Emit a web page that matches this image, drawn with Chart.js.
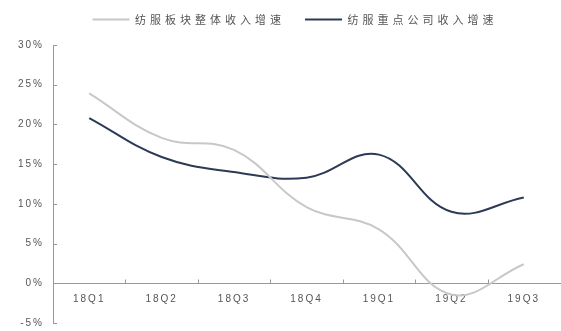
<!DOCTYPE html>
<html>
<head>
<meta charset="utf-8">
<script src="https://cdn.jsdelivr.net/npm/chart.js@4/dist/chart.umd.min.js"></script>
<style>
  html, body { margin: 0; padding: 0; background: #fff; }
  #wrap { width: 561px; height: 331px; position: relative; }
</style>
</head>
<body>
<div id="wrap"><canvas id="c"></canvas></div>
<script>
const categories = ["18Q1", "18Q2", "18Q3", "18Q4", "19Q1", "19Q2", "19Q3"];
const sectorGrowth = [23.9, 18.3, 16.8, 9.6, 6.8, -1.4, 2.4];
const keyCompanyGrowth = [20.8, 15.9, 14.0, 13.3, 16.2, 9.0, 10.8];
const seriesNames = ["纺服板块整体收入增速", "纺服重点公司收入增速"];
const yMin = -5, yMax = 30, yStep = 5;

const textColor = "#555";
const axisColor = "#999";

// letter spacing for canvas text, wider legend, inward tick marks
const spacingPlugin = {
  id: "spacing",
  beforeInit(chart) {
    const legend = chart.legend;
    const fit = legend.fit, draw = legend.draw;
    legend.fit = function () {
      this.ctx.save();
      this.ctx.letterSpacing = "4px";
      fit.call(this);
      this.ctx.restore();
      this.height += 4;
    };
    legend.draw = function () {
      this.ctx.save();
      this.ctx.letterSpacing = "4px";
      this.ctx.translate(15, -6);
      draw.call(this);
      this.ctx.restore();
    };
  },
  beforeDraw(chart) { chart.ctx.letterSpacing = "2px"; },
  afterDraw(chart) {
    const ctx = chart.ctx;
    const x = chart.scales.x, y = chart.scales.y;
    ctx.save();
    ctx.strokeStyle = axisColor;
    ctx.lineWidth = 1;
    ctx.beginPath();
    y.ticks.forEach((t, i) => {
      const py = Math.round(y.getPixelForTick(i)) + 0.5;
      ctx.moveTo(y.right, py);
      ctx.lineTo(y.right + 4, py);
    });
    const axisY = Math.round(y.getPixelForValue(0)) + 0.5;
    for (let i = 1; i < categories.length; i++) {
      const px = Math.round((x.getPixelForValue(i - 1) + x.getPixelForValue(i)) / 2) + 0.5;
      ctx.moveTo(px, axisY);
      ctx.lineTo(px, axisY - 4);
    }
    ctx.stroke();
    ctx.restore();
  }
};

new Chart(document.getElementById("c"), {
  type: "line",
  data: {
    labels: categories,
    datasets: [
      {
        label: seriesNames[0],
        data: sectorGrowth,
        borderColor: "#c8c8c8",
        backgroundColor: "#c8c8c8",
        borderWidth: 2,
        tension: 0.4,
        pointRadius: 0,
        pointStyle: "line",
        fill: false
      },
      {
        label: seriesNames[1],
        data: keyCompanyGrowth,
        borderColor: "#2c3a56",
        backgroundColor: "#2c3a56",
        borderWidth: 2,
        tension: 0.4,
        pointRadius: 0,
        pointStyle: "line",
        fill: false
      }
    ]
  },
  options: {
    responsive: true,
    maintainAspectRatio: false,
    animation: false,
    layout: { padding: { top: 0, right: 1, bottom: 8, left: 0 } },
    plugins: {
      legend: {
        position: "top",
        labels: {
          usePointStyle: true,
          pointStyle: "line",
          pointStyleWidth: 37,
          padding: 20,
          color: textColor,
          font: { family: "'Noto Sans CJK SC', sans-serif", size: 11 }
        }
      },
      tooltip: { enabled: false }
    },
    scales: {
      x: {
        position: { y: 0 },
        offset: true,
        grid: { display: false, drawTicks: false },
        border: { display: true, color: axisColor, width: 1 },
        ticks: {
          color: textColor,
          padding: 10,
          maxRotation: 0,
          font: { family: "Arial, 'Liberation Sans', sans-serif", size: 10 }
        }
      },
      y: {
        min: yMin,
        max: yMax,
        afterFit(scale) {
          scale.width = 53;
          scale.paddingTop = 0;
          scale.paddingBottom = 0;
        },
        grid: { display: false, drawTicks: false },
        border: { display: true, color: axisColor, width: 1 },
        ticks: {
          stepSize: yStep,
          color: textColor,
          padding: 9,
          font: { family: "Arial, 'Liberation Sans', sans-serif", size: 10 },
          callback: v => v + "%"
        }
      }
    }
  },
  plugins: [spacingPlugin]
});
</script>
</body>
</html>
